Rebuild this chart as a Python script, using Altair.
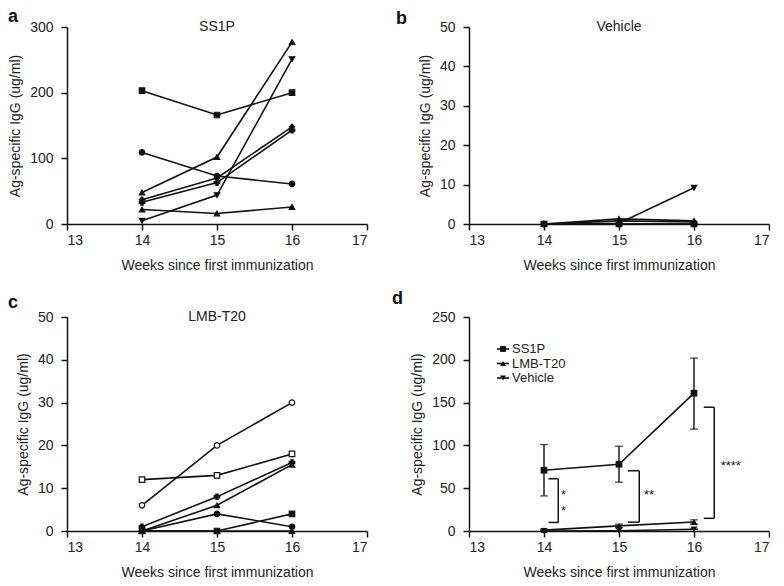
import altair as alt
import pandas as pd

BLACK = "#111111"
FONT = "Liberation Sans"

weeks = [14, 15, 16]
x_ticks = [13, 14, 15, 16, 17]
y_label = "Ag-specific IgG (ug/ml)"
x_label = "Weeks since first immunization"

# ---------------- Panel a: SS1P, individual mice ----------------
a_names = ["a1", "a2", "a3", "a4", "a5", "a6", "a7"]
a_values = [
    [109, 73, 61],
    [203, 166, 200],
    [22, 16, 26],
    [5, 44, 251],
    [37, 70, 148],
    [33, 63, 143],
    [48, 102, 277],
]
a_shapes = ["circle", "square", "triangle-up", "triangle-down", "diamond", "cross", "triangle-up"]
a_fills = [BLACK] * 7

# ---------------- Panel b: Vehicle, individual mice ----------------
b_names = ["b1", "b2", "b3", "b4", "b5"]
b_values = [
    [0, 0, 0],
    [0, 0, 0],
    [0, 1.3, 0.8],
    [0, 0.2, 9.2],
    [0, 0.8, 0.5],
]
b_shapes = ["circle", "square", "triangle-up", "triangle-down", "diamond"]
b_fills = [BLACK] * 5

# ---------------- Panel c: LMB-T20, individual mice ----------------
c_names = ["c1", "c2", "c3", "c4", "c5", "c6", "c7"]
c_values = [
    [6, 20, 30],
    [12, 13, 18],
    [1, 8, 16],
    [0, 6, 15.5],
    [0, 4, 1],
    [0, 0, 4],
    [0, 0, 0],
]
c_shapes = ["circle", "square", "cross", "triangle-up", "circle", "square", "triangle-up"]
c_fills = ["white", "white", BLACK, BLACK, BLACK, BLACK, BLACK]

# ---------------- Panel d: group means ----------------
d_groups = ["SS1P", "LMB-T20", "Vehicle"]
d_means = [[71, 78, 161], [1, 6, 10.5], [0, 0.3, 2]]
d_low = [[41, 57, 119], [0, 4, 8], [0, 0.3, 2]]
d_high = [[101, 99, 202], [2, 8, 13], [0, 0.3, 2]]
d_shapes = ["square", "triangle-up", "triangle-down"]

# significance brackets (left x, right x, top y, bottom y)
br_left = [14.06, 15.12, 16.13]
br_right = [14.19, 15.27, 16.27]
br_top = [61, 70.4, 144.6]
br_bottom = [10, 10.3, 14.8]
star_x = [14.26, 14.26, 15.40, 16.49]
star_y = [42, 23, 41.9, 75.7]
star_text = ["*", "*", "**", "****"]

panel_titles = ["SS1P", "Vehicle", "LMB-T20"]
letters = ["a", "b", "c", "d"]


def long_df(names, values):
    rows = []
    for n, vals in zip(names, values):
        for w, v in zip(weeks, vals):
            rows.append({"series": n, "week": w, "value": v})
    return pd.DataFrame(rows)


def x_enc():
    return alt.X("week:Q", scale=alt.Scale(domain=[13, 17], nice=False, zero=False),
                 axis=alt.Axis(values=x_ticks, format="d", title=x_label))


def y_enc(ymax, step, field="value"):
    return alt.Y(f"{field}:Q", scale=alt.Scale(domain=[0, ymax], nice=False),
                 axis=alt.Axis(values=list(range(0, ymax + 1, step)), title=y_label))


def letter_layer(letter, dx, dy):
    return alt.Chart(pd.DataFrame({"t": [letter]})).mark_text(
        font=FONT, fontSize=18, fontWeight="bold", align="left", baseline="top", color=BLACK
    ).encode(text="t:N", x=alt.value(dx), y=alt.value(dy))


def title_layer(title, width):
    return alt.Chart(pd.DataFrame({"t": [title]})).mark_text(
        font=FONT, fontSize=14, align="center", baseline="middle", color="#222222"
    ).encode(text="t:N", x=alt.value(width / 2), y=alt.value(0))


def individual_panel(names, values, shapes, fills, ymax, step, title, letter, ldx, ldy, width, height):
    df = long_df(names, values)
    base = alt.Chart(df)
    lines = base.mark_line(color=BLACK, strokeWidth=1.6).encode(
        x=x_enc(), y=y_enc(ymax, step), detail="series:N"
    )
    pts = base.mark_point(filled=True, stroke=BLACK, strokeWidth=1.2, size=30, opacity=1).encode(
        x=x_enc(), y=y_enc(ymax, step),
        shape=alt.Shape("series:N", scale=alt.Scale(domain=names, range=shapes), legend=None),
        fill=alt.Fill("series:N", scale=alt.Scale(domain=names, range=fills), legend=None),
    )
    return alt.layer(lines, pts, title_layer(title, width), letter_layer(letter, ldx, ldy)).properties(
        width=width, height=height
    )


W = 300
H1 = 197
H2 = 214

pa = individual_panel(a_names, a_values, a_shapes, a_fills, 300, 100, panel_titles[0], letters[0], -59, -19, W, H1)
pb = individual_panel(b_names, b_values, b_shapes, b_fills, 50, 10, panel_titles[1], letters[1], -73, -17, W, H1)
pc = individual_panel(c_names, c_values, c_shapes, c_fills, 50, 10, panel_titles[2], letters[2], -59, -23, W, H2)

# ---- panel d ----
rows = []
for g, m, lo, hi in zip(d_groups, d_means, d_low, d_high):
    for w, mv, lv, hv in zip(weeks, m, lo, hi):
        rows.append({"group": g, "week": w, "mean": mv, "lo": lv, "hi": hv})
ddf = pd.DataFrame(rows)
dbase = alt.Chart(ddf)

d_lines = dbase.mark_line(color=BLACK, strokeWidth=1.6).encode(
    x=x_enc(), y=y_enc(250, 50, "mean"), detail="group:N"
)
d_err = dbase.mark_rule(color=BLACK, strokeWidth=1.4).encode(
    x=x_enc(), y=y_enc(250, 50, "lo"), y2="hi:Q"
)
d_cap_lo = dbase.mark_tick(color=BLACK, orient="horizontal", size=8, thickness=1.4).encode(
    x=x_enc(), y=y_enc(250, 50, "lo")
)
d_cap_hi = dbase.mark_tick(color=BLACK, orient="horizontal", size=8, thickness=1.4).encode(
    x=x_enc(), y=y_enc(250, 50, "hi")
)
d_pts = dbase.mark_point(filled=True, color=BLACK, size=45, opacity=1).encode(
    x=x_enc(), y=y_enc(250, 50, "mean"),
    shape=alt.Shape("group:N", scale=alt.Scale(domain=d_groups, range=d_shapes), legend=None),
)

bdf = pd.DataFrame({"xl": br_left, "xr": br_right, "yt": br_top, "yb": br_bottom})
bbase = alt.Chart(bdf)
br_v = bbase.mark_rule(color=BLACK, strokeWidth=1.5).encode(
    x=alt.X("xr:Q"), y=alt.Y("yt:Q"), y2="yb:Q"
)
br_t = bbase.mark_rule(color=BLACK, strokeWidth=1.5).encode(
    x=alt.X("xl:Q"), x2="xr:Q", y=alt.Y("yt:Q")
)
br_b = bbase.mark_rule(color=BLACK, strokeWidth=1.5).encode(
    x=alt.X("xl:Q"), x2="xr:Q", y=alt.Y("yb:Q")
)
sdf = pd.DataFrame({"sx": star_x, "sy": star_y, "s": star_text})
stars = alt.Chart(sdf).mark_text(font=FONT, fontSize=13, color=BLACK, align="center", baseline="middle").encode(
    x=alt.X("sx:Q"), y=alt.Y("sy:Q"), text="s:N"
)

legend_layers = []
LEG_TOP = 32
LEG_GAP = 14.5
for i, (g, shp) in enumerate(zip(d_groups, d_shapes)):
    ly = LEG_TOP + i * LEG_GAP
    one = pd.DataFrame({"label": [g]})
    legend_layers.append(
        alt.Chart(one).mark_rule(color=BLACK, strokeWidth=1.6).encode(
            x=alt.value(28), x2=alt.value(40), y=alt.value(ly)
        )
    )
    legend_layers.append(
        alt.Chart(one).mark_point(filled=True, color=BLACK, size=34, opacity=1, shape=shp).encode(
            x=alt.value(34), y=alt.value(ly)
        )
    )
    legend_layers.append(
        alt.Chart(one).mark_text(font=FONT, fontSize=13, color="#222222", align="left", baseline="middle").encode(
            x=alt.value(43), y=alt.value(ly), text="label:N"
        )
    )

pd_chart = alt.layer(
    d_lines, d_err, d_cap_lo, d_cap_hi, d_pts, br_v, br_t, br_b, stars, *legend_layers,
    letter_layer(letters[3], -77, -27)
).properties(width=W, height=H2)

chart = alt.concat(
    pa, pb, pc, pd_chart, columns=2, spacing={"row": 93, "column": 102}, bounds="flush", align="each"
).resolve_scale(shape="independent", fill="independent").properties(padding=0).configure_view(
    stroke=None
).configure_axis(
    grid=False,
    domainColor=BLACK, domainWidth=1.5,
    tickColor=BLACK, tickWidth=1.5, tickSize=6,
    labelFont=FONT, labelFontSize=14, labelColor="#222222",
    titleFont=FONT, titleFontSize=14, titleFontWeight="normal", titleColor="#222222",
).configure_axisX(labelPadding=3, titlePadding=11).configure_axisY(labelPadding=8, titlePadding=7)

chart.save("out.html", embed_options={"renderer": "svg", "actions": False})
